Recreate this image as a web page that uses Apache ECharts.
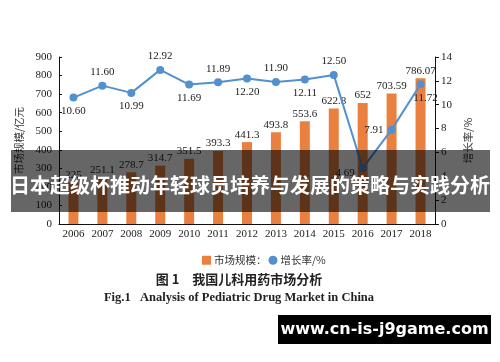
<!DOCTYPE html>
<html>
<head>
<meta charset="utf-8">
<script src="https://cdn.jsdelivr.net/npm/echarts@6/dist/echarts.min.js"></script>
<style>html,body{margin:0;padding:0;background:#fff;}#c{width:500px;height:362px;}</style>
</head>
<body>
<div id="c"></div>
<script>
const years = ['2006','2007','2008','2009','2010','2011','2012','2013','2014','2015','2016','2017','2018'];
const marketSize = [225, 251.1, 278.7, 314.7, 351.5, 393.3, 441.3, 493.8, 553.6, 622.8, 652, 703.59, 786.07];
const marketLabels = ['225','251.1','278.7','314.7','351.5','393.3','441.3','493.8','553.6','622.8','652','703.59','786.07'];
const growthRate = [10.60, 11.60, 10.99, 12.92, 11.69, 11.89, 12.20, 11.90, 12.11, 12.50, 4.69, 7.91, 11.72];
const growthLabels = ['10.60','11.60','10.99','12.92','11.69','11.89','12.20','11.90','12.11','12.50','4.69','7.91','11.72'];
const growthLabelPos = ['bottom','top','bottom','top','bottom','top','bottom','top','bottom','top','left','left','bottom'];
const leftTicks = [0, 900, 100];
const rightTicks = [0, 14, 2];

const serif = '"Liberation Serif","DejaVu Serif",serif';
const cjk = '"Noto Sans CJK SC","Noto Sans",sans-serif';
const barColor = '#E9803F';
const lineColor = '#5290CE';
const fs = 11;

const chart = echarts.init(document.getElementById('c'), null, {renderer: 'canvas'});

const lineData = growthRate.map((v, i) => {
  const pos = growthLabelPos[i];
  let offset = [0, 0];
  if (i === 10) offset = [0, 5];
  if (i === 12) offset = [5, 0];
  return {value: v, label: {position: pos, offset: offset, formatter: growthLabels[i]}};
});

chart.setOption({
  animation: false,
  backgroundColor: '#fff',
  grid: {left: 59, right: 65, top: 57, bottom: 138, containLabel: false},
  legend: {
    top: 250, left: 197,
    itemWidth: 9, itemHeight: 9, itemGap: 2,
    textStyle: {fontFamily: cjk, fontSize: 10.5, color: '#333', padding: [0,0,0,-2]},
    data: [
      {name: '市场规模：', icon: 'rect'},
      {name: '增长率/%', icon: 'circle'}
    ]
  },
  xAxis: {
    type: 'category', data: years,
    axisLine: {lineStyle: {color: '#111', width: 1}},
    axisTick: {show: false},
    axisLabel: {interval: 0, fontFamily: serif, fontSize: fs, color: '#222', margin: 5}
  },
  yAxis: [
    {
      type: 'value', min: leftTicks[0], max: leftTicks[1], interval: leftTicks[2],
      name: '市场规模/亿元', nameLocation: 'middle', nameGap: 31, nameRotate: 90,
      nameTextStyle: {fontFamily: cjk, fontSize: 10.5, color: '#333'},
      axisLine: {show: true, lineStyle: {color: '#111'}},
      axisTick: {show: true, inside: true, length: 3, lineStyle: {color: '#111'}},
      splitLine: {show: false},
      axisLabel: {fontFamily: serif, fontSize: fs, color: '#222', margin: 7}
    },
    {
      type: 'value', min: rightTicks[0], max: rightTicks[1], interval: rightTicks[2],
      name: '增长率/%', nameLocation: 'middle', nameGap: 26, nameRotate: 90,
      nameTextStyle: {fontFamily: cjk, fontSize: 10.5, color: '#333'},
      position: 'right',
      axisLine: {show: true, lineStyle: {color: '#111'}},
      axisTick: {show: true, inside: false, length: 4, lineStyle: {color: '#111'}},
      splitLine: {show: false},
      axisLabel: {fontFamily: serif, fontSize: fs, color: '#222', margin: 6}
    }
  ],
  series: [
    {
      name: '市场规模：', type: 'bar', yAxisIndex: 0, data: marketSize,
      barWidth: 10,
      itemStyle: {color: barColor},
      label: {show: true, position: 'top', distance: 2, fontFamily: serif, fontSize: fs, color: '#222',
        formatter: p => marketLabels[p.dataIndex]}
    },
    {
      name: '增长率/%', type: 'line', yAxisIndex: 1, data: lineData,
      symbol: 'circle', symbolSize: 8,
      lineStyle: {color: lineColor, width: 2},
      itemStyle: {color: lineColor},
      label: {show: true, distance: 4, fontFamily: serif, fontSize: fs, color: '#222'},
      z: 5
    }
  ],
  graphic: [
    {type: 'text', x: 239, y: 279, style: {text: '图 1　我国儿科用药市场分析', font: 'bold 13px ' + cjk, fill: '#222', align: 'center', verticalAlign: 'middle'}},
    {type: 'text', x: 239, y: 298, style: {text: 'Fig.1   Analysis of Pediatric Drug Market in China', font: 'bold 12.5px ' + serif, fill: '#222', align: 'center', verticalAlign: 'middle'}},
    {type: 'rect', z: 100, shape: {x: 11, y: 150, width: 479, height: 62}, style: {fill: 'rgba(0,0,0,0.6)'}},
    {type: 'text', z: 101, x: 250, y: 185, style: {text: '日本超级杯推动年轻球员培养与发展的策略与实践分析', font: 'bold 20px ' + cjk, fill: '#fff', align: 'center', verticalAlign: 'middle'}},
    {type: 'rect', z: 100, shape: {x: 278, y: 315, width: 213, height: 29}, style: {fill: '#000'}},
    {type: 'text', z: 101, x: 384.5, y: 329.5, style: {text: 'www.cn-is-j9game.com', font: 'bold 16px "DejaVu Sans",sans-serif', fill: '#fff', align: 'center', verticalAlign: 'middle'}}
  ]
});
</script>
</body>
</html>
